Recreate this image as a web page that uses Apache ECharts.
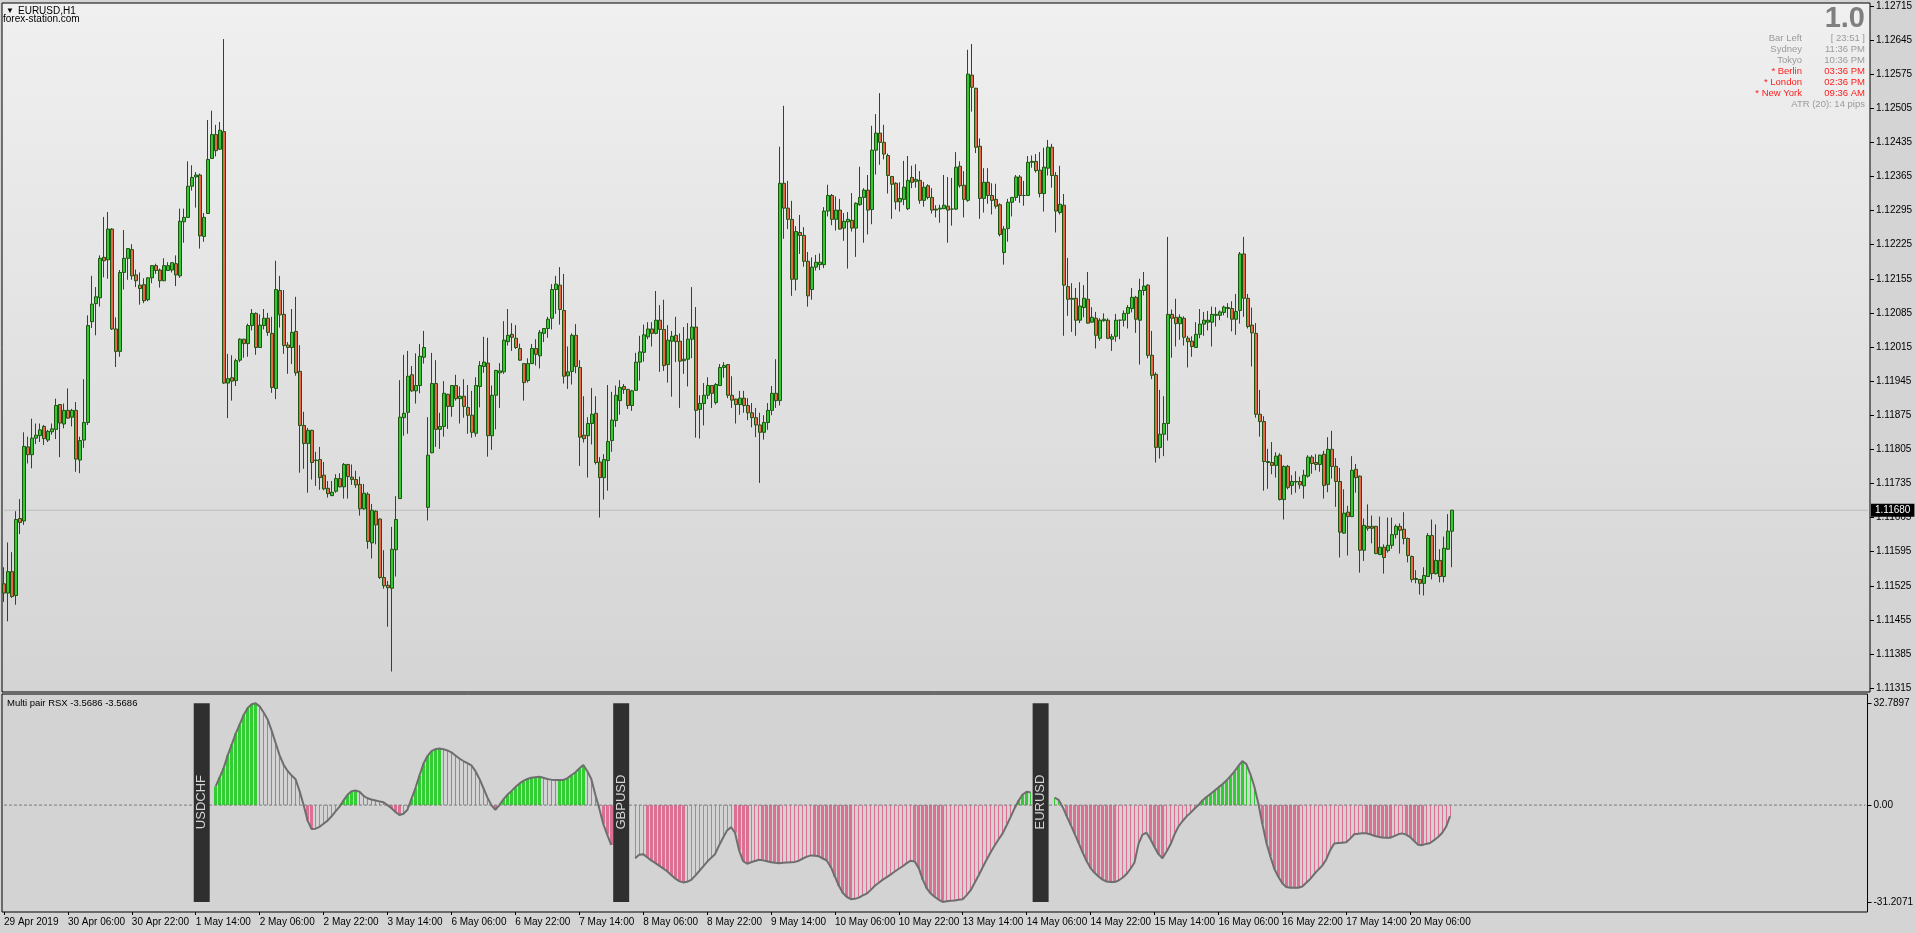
<!DOCTYPE html>
<html>
<head>
<meta charset="utf-8">
<script src="https://cdn.jsdelivr.net/npm/echarts@6/dist/echarts.min.js"></script>
<style>
html,body{margin:0;padding:0;background:#d4d4d4;}
#c{width:1916px;height:933px;}
</style>
</head>
<body>
<div id="c"></div>
<script>
// ---------- DATA ----------
// time-axis tick labels (one every 16 H1 bars, starting at bar 0)
const tickLabels = ['29 Apr 2019','30 Apr 06:00','30 Apr 22:00','1 May 14:00','2 May 06:00','2 May 22:00',
  '3 May 14:00','6 May 06:00','6 May 22:00','7 May 14:00','8 May 06:00','8 May 22:00','9 May 14:00',
  '10 May 06:00','10 May 22:00','13 May 14:00','14 May 06:00','14 May 22:00','15 May 14:00',
  '16 May 06:00','16 May 22:00','17 May 14:00','20 May 06:00'];
// price-axis tick labels
const priceTicks = [1.12715,1.12645,1.12575,1.12505,1.12435,1.12365,1.12295,1.12225,1.12155,1.12085,
  1.12015,1.11945,1.11875,1.11805,1.11735,1.11665,1.11595,1.11525,1.11455,1.11385,1.11315];
const rsxTicks = [32.7897, 0, -31.2071];
const lastPrice = 1.11680;

// EURUSD H1 candles, in points above 1.10000 (price = 1.1 + pts/100000)
const openPts = [
1529,1510,1554,1505,1663,1658,1810,1794,1828,1833,
1852,1824,1841,1846,1897,1857,1885,1871,1885,1783,
1824,1860,2067,2104,2116,2199,2194,2257,2052,2006,
2168,2197,2215,2163,2142,2143,2112,2157,2182,2173,
2151,2172,2173,2186,2161,2272,2281,2345,2364,2368,
2242,2289,2402,2451,2421,2457,1941,1952,1946,1988,
2031,2022,2059,2084,2014,2059,2074,2043,1930,2131,
2082,2019,2014,2047,1965,1854,1817,1844,1782,1784,
1752,1725,1710,1719,1745,1728,1774,1748,1743,1733,
1683,1713,1613,1678,1662,1542,1526,1520,1599,1704,
1870,1881,1958,1925,1936,1994,1686,1798,1940,1846,
1852,1918,1893,1936,1909,1914,1891,1875,1838,1934,
1975,1982,1833,1916,1962,1964,2026,2041,2033,2012,
1981,1946,1981,2012,1997,2043,2053,2074,2133,2142,
2090,1956,1965,2039,1973,1834,1833,1858,1879,1779,
1747,1782,1823,1864,1905,1934,1928,1895,1926,1984,
2004,2036,2052,2043,2070,2051,1979,2027,2039,2027,
1987,1990,2031,2056,1887,1899,1916,1936,1901,1936,
1973,1979,1916,1908,1897,1910,1895,1880,1870,1855,
1840,1860,1885,1920,1905,2351,2300,2277,2154,2250,
2244,2191,2133,2179,2184,2184,2294,2326,2277,2296,
2259,2272,2275,2259,2307,2322,2337,2297,2419,2454,
2435,2408,2365,2351,2313,2318,2299,2363,2355,2357,
2316,2346,2322,2298,2298,2299,2304,2298,2298,2386,
2347,2316,2573,2546,2427,2320,2353,2326,2318,2307,
2209,2258,2312,2322,2364,2326,2326,2394,2396,2378,
2330,2382,2425,2367,2291,2306,2139,2115,2115,2070,
2096,2113,2066,2074,2033,2069,2070,2031,2037,2070,
2070,2084,2094,2117,2070,2131,2142,1998,1959,1809,
1836,1858,2082,2076,2063,2074,2033,2027,2014,2041,
2062,2066,2066,2080,2080,2086,2094,2094,2072,2090,
2206,2115,2060,2043,1877,1862,1780,1778,1772,1793,
1702,1770,1731,1738,1739,1730,1750,1789,1778,1774,
1795,1733,1805,1770,1739,1633,1676,1667,1764,1750,
1598,1647,1647,1647,1589,1604,1597,1608,1630,1647,
1641,1622,1585,1538,1538,1530,1544,1628,1550,1577,
1544,1600,1637];
const closePts = [
1510,1554,1503,1661,1655,1811,1794,1828,1834,1845,
1827,1842,1847,1895,1859,1885,1869,1885,1785,1823,
1860,2059,2103,2118,2197,2192,2257,2052,2006,2168,
2197,2217,2161,2151,2135,2110,2157,2182,2172,2151,
2182,2182,2188,2163,2273,2281,2345,2363,2368,2243,
2281,2400,2451,2418,2460,1941,1950,1945,1987,2031,
2022,2059,2084,2014,2060,2074,2045,1932,2133,2081,
2018,2014,2045,1962,1854,1817,1844,1778,1783,1747,
1724,1714,1717,1745,1728,1774,1749,1743,1732,1683,
1715,1616,1680,1650,1542,1525,1521,1600,1661,1871,
1879,1955,1925,1936,1996,2014,1793,1940,1846,1852,
1920,1893,1936,1909,1914,1893,1875,1840,1936,1977,
1984,1833,1916,1967,1966,2029,2039,2035,2014,1988,
1942,1981,2012,2000,2045,2053,2072,2133,2144,2092,
1955,1964,2039,1975,1830,1827,1858,1877,1778,1747,
1784,1821,1865,1916,1932,1928,1895,1925,1984,2005,
2040,2052,2043,2070,2051,1977,2029,2037,2026,1986,
1990,2031,2056,1885,1899,1916,1936,1920,1938,1973,
1977,1916,1906,1897,1910,1895,1880,1870,1855,1840,
1860,1885,1920,1905,2351,2300,2277,2154,2252,2244,
2191,2120,2179,2189,2189,2294,2326,2277,2296,2257,
2273,2277,2259,2310,2322,2337,2296,2419,2454,2435,
2411,2367,2349,2313,2320,2343,2357,2353,2359,2316,
2343,2322,2296,2296,2300,2306,2296,2298,2384,2346,
2318,2575,2548,2425,2320,2353,2326,2316,2304,2246,
2257,2312,2322,2364,2326,2326,2394,2396,2377,2330,
2384,2425,2367,2294,2308,2142,2113,2113,2070,2099,
2115,2064,2076,2039,2070,2072,2033,2036,2070,2070,
2084,2096,2117,2072,2131,2140,1998,1957,1809,1836,
1858,2082,2074,2063,2076,2035,2026,2016,2041,2062,
2070,2070,2082,2082,2087,2097,2096,2072,2088,2206,
2115,2057,2044,1877,1862,1780,1778,1772,1791,1702,
1770,1727,1739,1739,1732,1752,1789,1776,1774,1793,
1731,1805,1770,1739,1635,1674,1667,1762,1747,1598,
1649,1643,1643,1591,1604,1583,1608,1630,1647,1639,
1622,1587,1538,1540,1530,1546,1628,1550,1577,1544,
1602,1637,1680];
const lowPts = [
1492,1452,1500,1486,1631,1650,1776,1766,1816,1820,
1814,1820,1835,1826,1789,1848,1868,1852,1759,1756,
1808,1855,2054,2039,2098,2158,2155,2050,1974,1995,
2133,2153,2153,2138,2102,2105,2109,2146,2165,2137,
2150,2171,2168,2140,2157,2229,2280,2336,2301,2217,
2231,2288,2401,2406,2420,1939,1869,1905,1935,1984,
1993,1995,2049,1999,2013,2051,2038,1921,1908,2055,
2001,1960,1980,1956,1757,1765,1716,1743,1730,1722,
1721,1706,1709,1716,1727,1704,1704,1732,1726,1669,
1681,1601,1581,1610,1539,1519,1441,1349,1544,1703,
1833,1837,1923,1899,1920,1981,1659,1797,1810,1806,
1831,1847,1872,1905,1858,1870,1837,1829,1831,1891,
1962,1790,1804,1846,1890,1960,2018,2007,2011,1987,
1905,1942,1980,1977,1971,2025,2034,2051,2083,2061,
1940,1929,1938,1961,1771,1819,1747,1815,1774,1665,
1702,1720,1800,1851,1876,1919,1888,1884,1925,1946,
1985,2031,2016,2041,1964,1966,1942,1913,1984,1890,
1960,1934,1992,1829,1827,1854,1908,1890,1897,1935,
1952,1910,1890,1858,1876,1880,1865,1850,1830,1736,
1825,1845,1875,1890,1895,2237,2257,2120,2131,2206,
2180,2098,2112,2172,2173,2177,2283,2265,2254,2256,
2233,2176,2252,2200,2305,2229,2246,2267,2369,2389,
2400,2330,2278,2297,2293,2306,2296,2341,2342,2309,
2303,2318,2289,2281,2270,2298,2229,2264,2296,2342,
2281,2313,2498,2413,2278,2291,2309,2287,2299,2242,
2184,2231,2283,2315,2311,2305,2325,2383,2373,2322,
2293,2367,2342,2250,2287,2038,2079,2046,2038,2064,
2076,2063,2065,2012,2028,2067,2031,2007,2026,2031,
2057,2053,2086,2044,1979,2121,1992,1949,1778,1786,
1791,1823,1993,2016,2030,2018,1973,1995,2013,2033,
2038,2049,2016,2057,2070,2080,2075,2047,2040,2063,
2077,2053,1975,1870,1831,1720,1724,1754,1747,1700,
1661,1723,1712,1716,1724,1704,1747,1755,1762,1759,
1704,1717,1745,1687,1583,1632,1587,1666,1716,1552,
1576,1638,1612,1590,1588,1550,1593,1601,1622,1591,
1610,1573,1532,1530,1507,1505,1543,1538,1548,1532,
1532,1599,1563];
const highPts = [
1563,1614,1594,1678,1703,1840,1831,1868,1858,1858,
1855,1845,1858,1909,1898,1899,1930,1888,1902,1831,
1949,2080,2161,2138,2203,2282,2292,2259,2076,2173,
2255,2218,2226,2174,2168,2156,2158,2183,2186,2176,
2197,2189,2189,2203,2299,2299,2396,2388,2374,2371,
2290,2481,2500,2471,2477,2647,2001,1998,1991,2033,
2032,2063,2093,2086,2082,2093,2085,2077,2192,2161,
2132,2025,2093,2118,2019,1882,1849,1845,1800,1810,
1779,1740,1740,1754,1756,1777,1775,1774,1761,1749,
1734,1717,1693,1680,1663,1598,1535,1646,1709,1947,
1999,2007,1976,2002,2021,2048,1871,2003,1988,1880,
1945,1919,1937,1958,1934,1949,1937,1925,1953,1986,
2036,2034,1936,1968,1982,2068,2093,2064,2060,2022,
1982,1992,2021,2031,2050,2054,2077,2144,2161,2179,
2165,2016,2043,2062,1988,1914,1871,1931,1914,1789,
1795,1937,1923,1936,1947,1939,1929,1927,2003,2038,
2061,2066,2066,2130,2101,2112,2060,2048,2077,2043,
2056,2064,2138,2097,1916,1941,1953,1937,1941,1980,
1984,1980,1955,1909,1925,1925,1910,1900,1890,1880,
1875,1900,1935,1990,2426,2510,2356,2315,2263,2286,
2261,2210,2199,2204,2207,2302,2348,2329,2324,2319,
2290,2292,2331,2312,2385,2341,2368,2469,2493,2536,
2471,2412,2366,2353,2353,2397,2407,2387,2390,2376,
2354,2349,2341,2306,2307,2368,2364,2362,2415,2396,
2376,2625,2637,2547,2443,2382,2382,2351,2350,2310,
2263,2319,2323,2368,2368,2356,2407,2408,2411,2415,
2424,2440,2432,2374,2387,2329,2198,2146,2136,2148,
2142,2169,2097,2087,2074,2084,2074,2042,2083,2071,
2090,2101,2136,2120,2155,2169,2144,2048,1963,1927,
1914,2241,2092,2114,2082,2078,2038,2037,2066,2093,
2087,2089,2098,2097,2090,2100,2105,2109,2124,2210,
2241,2124,2096,2064,1927,1873,1806,1820,1799,1797,
1772,1773,1752,1760,1749,1763,1793,1793,1795,1794,
1802,1830,1843,1787,1767,1723,1689,1791,1775,1751,
1663,1692,1669,1648,1667,1610,1665,1665,1651,1653,
1676,1624,1587,1557,1539,1563,1633,1661,1651,1600,
1626,1672,1681];

// Multi pair RSX: last 100 bars of each pair
const pairs = ['USDCHF','GBPUSD','EURUSD'];
const rsxUSDCHF = [
6.0,9.0,12.0,16.0,19.5,23.0,26.0,29.0,31.3,32.5,
32.7897,31.8,29.8,27.6,24.0,20.0,16.0,13.0,11.0,9.5,
8.3,4.5,0.0,-5.0,-7.7,-7.6,-7.0,-6.0,-5.0,-3.6,
-2.0,-0.5,1.5,3.3,4.5,4.7,4.3,3.0,2.2,1.8,
1.5,1.2,0.9,0.0,-1.0,-2.2,-3.2,-2.8,-1.5,2.0,
5.5,9.5,13.3,15.8,17.4,18.0,18.2,18.0,17.6,17.0,
16.0,15.0,14.2,13.5,12.8,11.0,8.5,5.5,2.5,0.0,
-1.5,0.0,1.8,3.3,4.5,5.8,6.9,7.8,8.4,8.8,
9.0,9.1,8.8,8.4,8.2,8.1,8.1,8.1,8.6,9.6,
10.5,11.8,12.9,11.0,8.5,3.5,-1.0,-6.0,-9.5,-12.8];
const rsxGBPUSD = [
-17.1,-16.0,-15.8,-16.8,-17.8,-18.6,-19.5,-20.4,-21.3,-22.5,
-23.6,-24.5,-24.9,-24.7,-24.1,-22.8,-21.3,-19.8,-18.3,-17.0,
-15.8,-13.0,-10.5,-8.2,-7.1,-8.9,-14.5,-18.0,-18.9,-18.4,
-18.0,-17.6,-17.8,-18.1,-18.4,-18.6,-18.7,-18.6,-18.5,-18.4,
-18.3,-17.9,-17.2,-16.6,-16.2,-16.3,-16.5,-17.2,-17.9,-20.0,
-23.0,-26.0,-28.3,-29.6,-30.3,-30.2,-29.8,-29.1,-28.5,-27.3,
-26.0,-25.0,-24.0,-23.2,-22.3,-21.4,-20.5,-19.7,-18.7,-17.9,
-18.2,-20.3,-24.0,-26.8,-28.5,-29.6,-30.5,-31.2071,-31.0,-30.8,
-30.7,-30.5,-30.3,-29.0,-27.4,-25.0,-22.6,-20.0,-17.5,-15.2,
-13.0,-11.0,-9.1,-6.5,-3.8,-1.0,1.5,3.4,4.3,4.1];
const rsxEURUSD = [
2.4,1.7,-0.6,-3.5,-6.3,-9.2,-12.2,-15.2,-18.0,-20.3,
-21.8,-23.0,-24.0,-24.6,-24.8,-24.8,-24.3,-23.4,-22.2,-20.5,
-18.5,-12.5,-9.5,-8.9,-11.0,-13.5,-15.8,-17.1,-15.0,-12.7,
-9.5,-6.9,-5.2,-3.7,-2.5,-1.2,0.0,1.5,2.6,3.6,
4.6,5.7,6.7,7.9,9.3,10.8,12.6,14.2,13.2,10.0,
6.0,0.5,-6.0,-12.0,-16.5,-20.5,-23.1,-25.2,-26.4,-26.6,
-26.6,-26.6,-26.2,-25.0,-23.8,-22.2,-20.8,-19.5,-17.5,-14.5,
-12.4,-12.2,-12.1,-12.0,-10.8,-9.4,-9.2,-9.1,-9.1,-9.4,
-9.9,-10.2,-10.4,-10.5,-10.5,-10.0,-9.4,-9.1,-9.5,-10.3,
-11.6,-12.8,-12.9,-12.5,-12.2,-11.3,-10.3,-9.0,-7.0,-3.5686];

// ---------- LAYOUT / BUILD ----------
const N_SLOTS = 467;            // visible bar slots (incl. empty future space)
const FIRST_TAG = 48, BLOCK = 105, TAG_W = 4, GAP = 1;
const FONT = 'Liberation Sans, Arial, sans-serif';
const GREEN = '#32cd32', PINK = '#db7093';

const cats = Array.from({length: N_SLOTS}, (_, i) => String(i));
const P = p => +(1.1 + p / 100000).toFixed(5);
const candles = openPts.map((o, i) => [P(o), P(closePts[i]), P(lowPts[i]), P(highPts[i])]);
const priceLine = new Array(N_SLOTS).fill(lastPrice);
const zeroLine = new Array(N_SLOTS).fill(0);

const rsxSets = [rsxUSDCHF, rsxGBPUSD, rsxEURUSD];
const rsxLine = new Array(N_SLOTS).fill(null);
const histData = [];
const tagData = [];
rsxSets.forEach((arr, k) => {
  const tag = FIRST_TAG + k * BLOCK;
  tagData.push([tag, tag + TAG_W - 1]);
  const s = tag + TAG_W + GAP;
  arr.forEach((v, j) => {
    rsxLine[s + j] = v;
    const growing = j > 0 ? Math.abs(v) >= Math.abs(arr[j - 1]) : Math.abs(arr[1]) > Math.abs(v);
    histData.push([s + j, v, growing ? 1 : 0]);
  });
});

const isTick = idx => idx % 16 === 0 && idx / 16 < tickLabels.length;

const chart = echarts.init(document.getElementById('c'), null, {renderer: 'canvas'});
const infoRows = [
  ['Bar Left', '[ 23:51 ]', '#9a9a9a'],
  ['Sydney', '11:36 PM', '#9a9a9a'],
  ['Tokyo', '10:36 PM', '#9a9a9a'],
  ['* Berlin', '03:36 PM', '#ff1c1c'],
  ['* London', '02:36 PM', '#ff1c1c'],
  ['* New York', '09:36 AM', '#ff1c1c']
];
const graphics = [
  {type:'text', x:6, y:11, style:{text:'▼', fill:'#000', font:'8px ' + FONT, verticalAlign:'middle'}},
  {type:'text', x:18, y:11, style:{text:'EURUSD,H1', fill:'#000', font:'10px ' + FONT, verticalAlign:'middle'}},
  {type:'text', x:3, y:19.5, style:{text:'forex-station.com', fill:'#000', font:'10px ' + FONT, verticalAlign:'middle'}},
  {type:'text', x:1865, y:19, style:{text:'1.0', fill:'#7f7f7f', font:'bold 29px ' + FONT, align:'right', verticalAlign:'middle'}},
  {type:'text', x:1865, y:104.7, style:{text:'ATR (20): 14 pips', fill:'#9a9a9a', font:'9.5px ' + FONT, align:'right', verticalAlign:'middle'}},
  {type:'text', x:7, y:703, style:{text:'Multi pair RSX -3.5686 -3.5686', fill:'#000', font:'9.5px ' + FONT, verticalAlign:'middle'}}
];
infoRows.forEach((r, k) => {
  const y = 38.7 + k * 11;
  graphics.push({type:'text', x:1802, y:y, style:{text:r[0], fill:r[2], font:'9.5px ' + FONT, align:'right', verticalAlign:'middle'}});
  graphics.push({type:'text', x:1865, y:y, style:{text:r[1], fill:r[2], font:'9.5px ' + FONT, align:'right', verticalAlign:'middle'}});
});

const option = {
  animation: false,
  backgroundColor: '#d4d4d4',
  graphic: graphics,
  grid: [
    {left: 2, top: 3, width: 1868, height: 689, show: true, borderColor: '#000', borderWidth: 1,
     backgroundColor: {type:'linear', x:0, y:0, x2:0, y2:1, colorStops:[{offset:0, color:'#f0f0f0'},{offset:1, color:'#d4d4d4'}]}},
    {left: 2, top: 694, width: 1868, height: 218, show: true, borderColor: '#000', borderWidth: 1, backgroundColor: '#d3d3d3'}
  ],
  xAxis: [
    {type:'category', gridIndex:0, data:cats, boundaryGap:true, show:false},
    {type:'category', gridIndex:1, data:cats, boundaryGap:true, position:'bottom',
     axisLine:{show:false, onZero:false},
     axisTick:{show:true, interval:isTick, alignWithLabel:true, length:3, lineStyle:{color:'#000'}},
     axisLabel:{interval:isTick, formatter:(v, idx) => tickLabels[idx / 16], align:'left', color:'#000',
       fontSize:10, fontFamily:FONT, margin:5, hideOverlap:false},
     splitLine:{show:false}}
  ],
  yAxis: [
    {type:'value', gridIndex:0, position:'right', min:1.11307, max:1.12721, scale:true,
     axisLine:{show:false}, splitLine:{show:false},
     axisTick:{show:true, inside:false, length:4, customValues:priceTicks, lineStyle:{color:'#000'}},
     axisLabel:{customValues:priceTicks, formatter:v => v.toFixed(5), color:'#000', fontSize:10, fontFamily:FONT, margin:6}},
    {type:'value', gridIndex:1, position:'right', min:-34.43, max:35.78,
     axisLine:{show:false}, splitLine:{show:false},
     axisTick:{show:true, length:4, customValues:rsxTicks, lineStyle:{color:'#000'}},
     axisLabel:{customValues:rsxTicks, formatter:v => v === 0 ? '0.00' : v.toFixed(4), color:'#000', fontSize:10, fontFamily:FONT, margin:6}}
  ],
  series: [
    {type:'line', xAxisIndex:0, yAxisIndex:0, data:priceLine, z:1, symbol:'none', showSymbol:false, silent:true,
     lineStyle:{color:'#bdbdbd', width:1},
     endLabel:{show:true, distance:3, formatter:lastPrice.toFixed(5), color:'#fff', backgroundColor:'#000',
       padding:[2,4,1,4], fontSize:10, fontFamily:FONT}},
    {type:'candlestick', xAxisIndex:0, yAxisIndex:0, data:candles, barWidth:3, z:3,
     itemStyle:{color:'#34c934', color0:'#e8674b', borderColor:'#1d5410', borderColor0:'#1d5410', borderWidth:1}},
    {type:'custom', xAxisIndex:1, yAxisIndex:1, data:histData, z:2,
     renderItem:(params, api) => {
       const i = api.value(0), v = api.value(1), thick = api.value(2);
       const p1 = api.coord([i, v]), p0 = api.coord([i, 0]);
       const w = thick ? 3 : 1;
       const x = Math.round(p0[0] - w / 2);
       const y = Math.min(p0[1], p1[1]);
       return {type:'rect', shape:{x:x, y:y, width:w, height:Math.abs(p1[1] - p0[1])},
               style:{fill: v >= 0 ? GREEN : PINK}};
     }},
    {type:'line', xAxisIndex:1, yAxisIndex:1, data:zeroLine, z:3, symbol:'none', showSymbol:false, silent:true,
     lineStyle:{color:'#7a7a7a', width:1, type:[3,2]}},
    {type:'line', xAxisIndex:1, yAxisIndex:1, data:rsxLine, z:4, showSymbol:false, symbol:'none',
     connectNulls:false, lineStyle:{color:'#6e6e6e', width:2}},
    {type:'custom', xAxisIndex:1, yAxisIndex:1, data:tagData, z:5,
     renderItem:(params, api) => {
       const band = api.size([1, 0])[0];
       const a = api.coord([api.value(0), rsxTicks[0]]);
       const b = api.coord([api.value(1), rsxTicks[2]]);
       const x0 = a[0] - band / 2, x1 = b[0] + band / 2;
       const yc = api.coord([api.value(0), 0])[1];
       return {type:'group', children:[
         {type:'rect', shape:{x:x0, y:a[1], width:x1 - x0, height:b[1] - a[1]}, style:{fill:'#2f2f2f'}},
         {type:'text', x:(x0 + x1) / 2, y:yc - 3, rotation:Math.PI / 2,
          style:{text:pairs[params.dataIndex], fill:'#d4d4d4', font:'13px ' + FONT, align:'center', verticalAlign:'middle'}}
       ]};
     }}
  ]
};
chart.setOption(option);
</script>
</body>
</html>
